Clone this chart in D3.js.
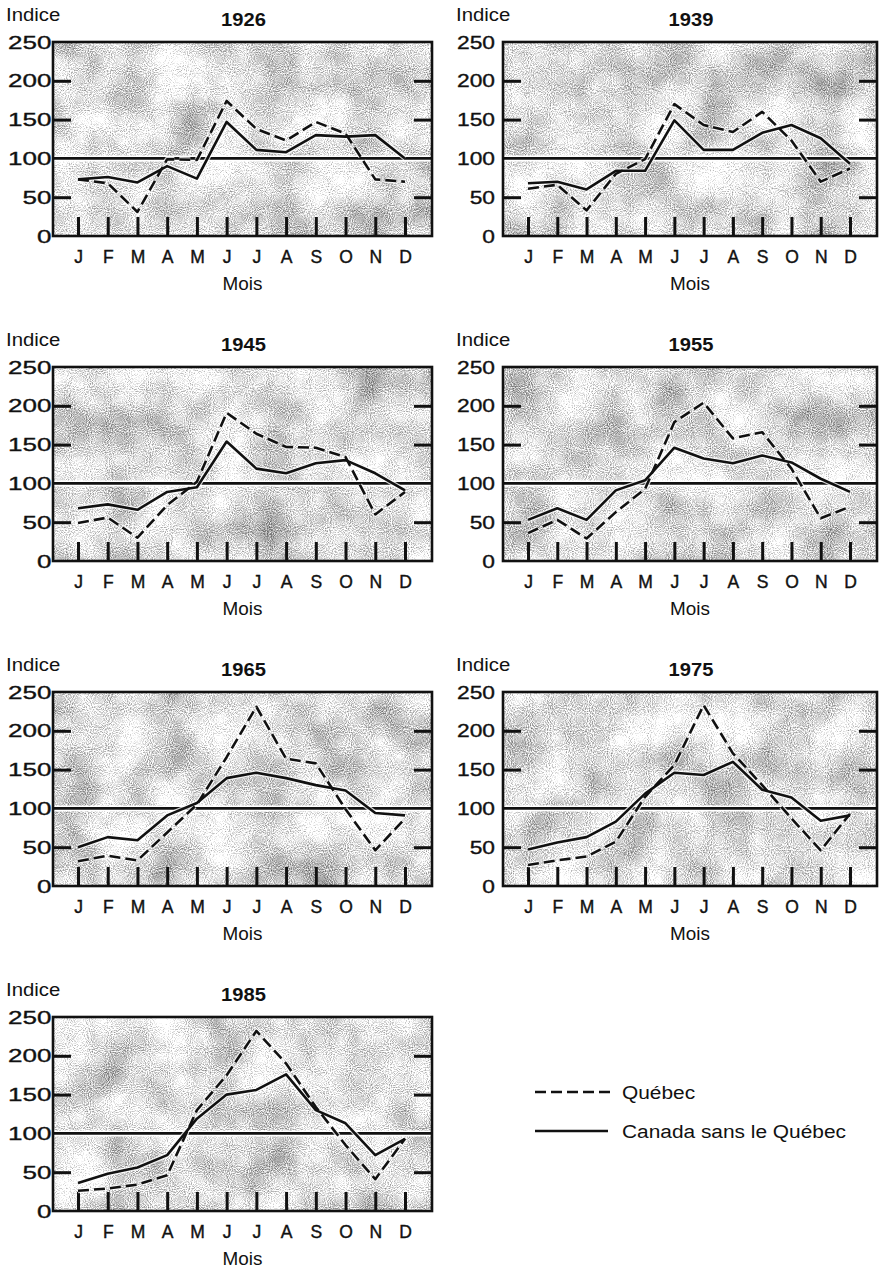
<!DOCTYPE html>
<html>
<head>
<meta charset="utf-8">
<script src="https://cdn.jsdelivr.net/npm/d3@7"></script>
<style>
  html, body { margin: 0; padding: 0; background: #fff; }
  svg { display: block; }
  text { font-family: "Liberation Sans", Arial, Helvetica, sans-serif; fill: #111; }
</style>
</head>
<body>
<svg id="chart" width="883" height="1269"></svg>
<script>
// Month labels, y-axis ticks and panel years
const months = ["J", "F", "M", "A", "M", "J", "J", "A", "S", "O", "N", "D"];
const yTickLabels = [0, 50, 100, 150, 200, 250];
const yTickMarks = [50, 150, 200];
const years = ["1926", "1939", "1945", "1955", "1965", "1975", "1985"];

// Monthly index (100 = yearly average), Québec vs. Canada without Québec
const quebec1926 = [73, 68, 31, 99, 98, 174, 138, 123, 147, 132, 73, 70];
const canada1926 = [73, 76, 69, 90, 74, 147, 111, 108, 130, 128, 130, 100];

const quebec1939 = [61, 66, 33, 80, 99, 170, 143, 134, 160, 123, 70, 87];
const canada1939 = [68, 70, 60, 84, 84, 149, 111, 111, 133, 143, 126, 93];

const quebec1945 = [49, 56, 30, 72, 102, 191, 164, 147, 146, 134, 60, 89];
const canada1945 = [68, 73, 66, 89, 95, 154, 119, 113, 126, 130, 113, 91];

const quebec1955 = [36, 53, 29, 63, 93, 179, 204, 158, 166, 119, 55, 70];
const canada1955 = [53, 68, 53, 91, 104, 146, 132, 126, 136, 127, 106, 89];

const quebec1965 = [32, 39, 33, 69, 105, 166, 231, 164, 158, 99, 46, 87];
const canada1965 = [50, 63, 59, 91, 107, 139, 146, 139, 130, 123, 94, 91];

const quebec1975 = [27, 33, 38, 57, 115, 156, 233, 171, 130, 87, 46, 93];
const canada1975 = [47, 56, 63, 83, 119, 146, 143, 160, 124, 114, 84, 91];

const quebec1985 = [26, 29, 34, 46, 130, 175, 232, 190, 134, 85, 41, 93];
const canada1985 = [36, 48, 56, 72, 119, 150, 156, 176, 130, 113, 72, 93];

const quebecSeries = [quebec1926, quebec1939, quebec1945, quebec1955, quebec1965, quebec1975, quebec1985];
const canadaSeries = [canada1926, canada1939, canada1945, canada1955, canada1965, canada1975, canada1985];

const legendLabels = ["Québec", "Canada sans le Québec"];

// ---- layout ----
const colLeft = [53, 503];
const colRight = [432, 877];
const labelScale = [1.37, 1.2];
const labelGap = [1.5, 8];
const rowTop0 = 42, rowPitch = 325, plotH = 194;
const DASH = "11,5";
const LINE_W = 2.6;

const svg = d3.select("#chart");
const defs = svg.append("defs");

// Speckled screen-tint texture for the plot backgrounds
function makeTexture(id, seed) {
  const f = defs.append("filter")
    .attr("id", id)
    .attr("x", 0).attr("y", 0).attr("width", 1).attr("height", 1)
    .attr("color-interpolation-filters", "sRGB");
  const grayM = "1 0 0 0 0  1 0 0 0 0  1 0 0 0 0  0 0 0 0 1";
  f.append("feTurbulence").attr("type", "fractalNoise")
    .attr("baseFrequency", 0.02).attr("numOctaves", 3).attr("seed", seed).attr("result", "c");
  f.append("feColorMatrix").attr("in", "c").attr("type", "matrix").attr("values", grayM).attr("result", "cg");
  f.append("feTurbulence").attr("type", "fractalNoise")
    .attr("baseFrequency", 0.95).attr("numOctaves", 1).attr("seed", seed + 17).attr("result", "f");
  f.append("feColorMatrix").attr("in", "f").attr("type", "matrix").attr("values", grayM).attr("result", "fg");
  f.append("feComposite").attr("in", "cg").attr("in2", "fg").attr("operator", "arithmetic")
    .attr("k1", 0).attr("k2", 0.6).attr("k3", 1.1).attr("k4", 0.02);
}

years.forEach((year, i) => {
  const col = i % 2, row = Math.floor(i / 2);
  const left = colLeft[col], right = colRight[col];
  const top = rowTop0 + row * rowPitch, bottom = top + plotH;
  const cx = (left + right) / 2;

  const x = d3.scalePoint().domain(d3.range(12)).range([left + 25, right - 27]);
  const y = d3.scaleLinear().domain([0, 250]).range([bottom, top]);

  const g = svg.append("g").attr("class", "panel");

  // background tint
  makeTexture("tex" + i, 3 + i * 11);
  g.append("rect")
    .attr("x", left).attr("y", top)
    .attr("width", right - left).attr("height", bottom - top)
    .attr("fill", "#ccc")
    .attr("filter", `url(#tex${i})`);

  // reference line at 100
  g.append("line")
    .attr("x1", left).attr("x2", right)
    .attr("y1", y(100)).attr("y2", y(100))
    .attr("stroke", "#fff").attr("stroke-width", 6);
  g.append("line")
    .attr("x1", left).attr("x2", right)
    .attr("y1", y(100)).attr("y2", y(100))
    .attr("stroke", "#111").attr("stroke-width", 2.6);

  // inner tick marks: left, right, bottom
  const tickStyle = sel => {
    sel.select(".domain").remove();
    sel.selectAll(".tick line").attr("stroke", "#111").attr("stroke-width", 3);
    sel.selectAll(".tick text").remove();
  };
  g.append("g").attr("transform", `translate(${left},0)`)
    .call(d3.axisLeft(y).tickValues(yTickMarks).tickSize(-18))
    .call(tickStyle);
  g.append("g").attr("transform", `translate(${right},0)`)
    .call(d3.axisRight(y).tickValues(yTickMarks).tickSize(-18))
    .call(tickStyle);
  g.append("g").attr("transform", `translate(0,${bottom})`)
    .call(d3.axisBottom(x).tickSize(-19))
    .call(tickStyle);

  // series
  const line = d3.line().x((d, k) => x(k)).y(d => y(d));
  const series = [
    { values: canadaSeries[i], dash: null },
    { values: quebecSeries[i], dash: DASH }
  ];
  series.forEach(s => {
    g.append("path").datum(s.values)
      .attr("d", line)
      .attr("fill", "none")
      .attr("stroke", "#fff").attr("stroke-opacity", 0.8)
      .attr("stroke-width", LINE_W + 2.4)
      .attr("stroke-linejoin", "round")
      .attr("stroke-dasharray", s.dash);
  });
  series.forEach(s => {
    g.append("path").datum(s.values)
      .attr("d", line)
      .attr("fill", "none")
      .attr("stroke", "#111")
      .attr("stroke-width", LINE_W)
      .attr("stroke-linejoin", "round")
      .attr("stroke-dasharray", s.dash);
  });

  // frame
  g.append("rect")
    .attr("x", left).attr("y", top)
    .attr("width", right - left).attr("height", bottom - top)
    .attr("fill", "none").attr("stroke", "#111").attr("stroke-width", 2.6);

  // y-axis labels
  const sx = labelScale[col];
  g.append("g").attr("transform", `translate(${left},0)`)
    .call(d3.axisLeft(y).tickValues(yTickLabels).tickSize(0).tickPadding(labelGap[col] / sx))
    .call(sel => {
      sel.select(".domain").remove();
      sel.attr("font-family", null).attr("font-size", null);
      sel.selectAll(".tick text")
        .style("font-size", "19px")
        .attr("fill", "#111")
        .attr("stroke", "#111").attr("stroke-width", 0.35)
        .attr("transform", `scale(${sx},1)`);
    });

  // month labels
  g.append("g").attr("transform", `translate(0,${bottom})`)
    .call(d3.axisBottom(x).tickSize(0).tickPadding(14.6).tickFormat(k => months[k]))
    .call(sel => {
      sel.select(".domain").remove();
      sel.attr("font-family", null).attr("font-size", null);
      sel.selectAll(".tick text")
        .style("font-size", "17.5px")
        .attr("fill", "#111")
        .attr("stroke", "#111").attr("stroke-width", 0.4);
    });

  // titles
  g.append("text")
    .attr("transform", `translate(${left - 47},${top - 21}) scale(1.1,1)`)
    .style("font-size", "18.5px")
    .text("Indice");
  g.append("text")
    .attr("transform", `translate(${cx + 1},${top - 16}) scale(1.12,1)`)
    .attr("text-anchor", "middle")
    .style("font-size", "18px").style("font-weight", "bold")
    .text(year);
  g.append("text")
    .attr("transform", `translate(${cx},${bottom + 54}) scale(1.08,1)`)
    .attr("text-anchor", "middle")
    .style("font-size", "17.5px")
    .text("Mois");
});

// legend
const legend = svg.append("g").attr("class", "legend");
[{ y: 1092, dash: DASH, x2: 610 }, { y: 1131, dash: null, x2: 608 }].forEach((item, k) => {
  legend.append("line")
    .attr("x1", 535).attr("x2", item.x2)
    .attr("y1", item.y).attr("y2", item.y)
    .attr("stroke", "#111").attr("stroke-width", LINE_W)
    .attr("stroke-dasharray", item.dash);
  legend.append("text")
    .attr("transform", `translate(622,${item.y + 6.5}) scale(1.16,1)`)
    .style("font-size", "18px")
    .text(legendLabels[k]);
});
</script>
</body>
</html>
